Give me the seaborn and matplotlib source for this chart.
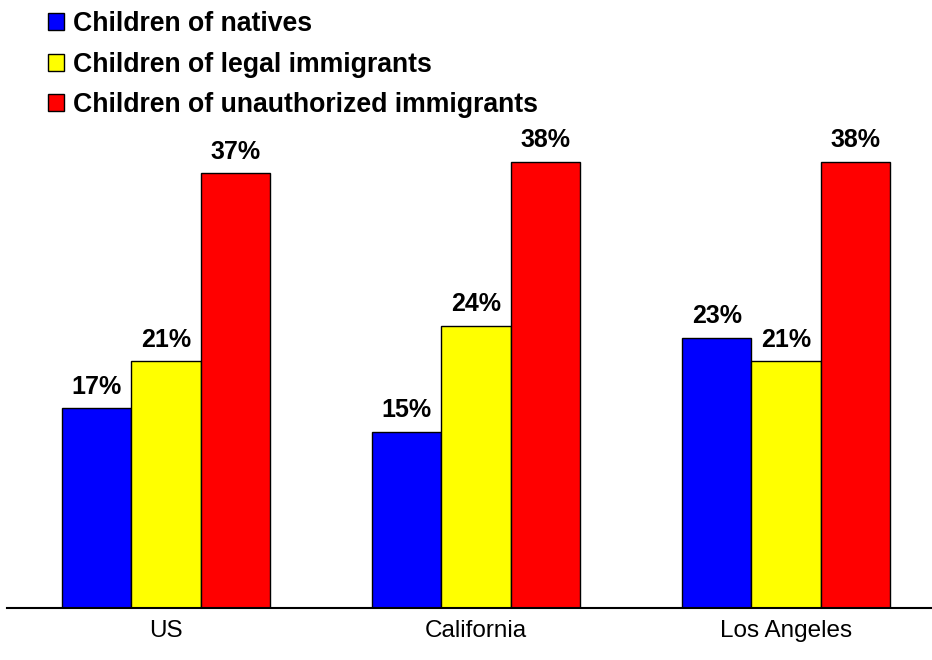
import matplotlib
matplotlib.use("Agg")
import matplotlib.pyplot as plt
import seaborn as sns
import pandas as pd

regions = ["US", "California", "Los Angeles"]
series_names = ["Children of natives", "Children of legal immigrants",
                "Children of unauthorized immigrants"]
natives = [17, 15, 23]
legal = [21, 24, 21]
unauthorized = [37, 38, 38]
colors = ["#0000FF", "#FFFF00", "#FF0000"]

rows = []
for name, vals in zip(series_names, [natives, legal, unauthorized]):
    for r, v in zip(regions, vals):
        rows.append({"region": r, "group": name, "value": v})
df = pd.DataFrame(rows)

sns.set_theme(style="white")
plt.rcParams['font.family'] = ['Liberation Sans', 'DejaVu Sans']
plt.rcParams['text.color'] = 'black'

fig = plt.figure(figsize=(9.32, 6.6), dpi=100)
W, H = 932, 660
ax = fig.add_axes([7 / W, (H - 608) / H, 925 / W, (608 - 100) / H])

sns.barplot(data=df, x="region", y="value", hue="group", order=regions,
            hue_order=series_names, palette=colors, width=0.67, gap=0,
            edgecolor="black", linewidth=1, saturation=1, ax=ax, legend=True)

for cont in ax.containers:
    ax.bar_label(cont, labels=[f"{int(v)}%" for v in cont.datavalues],
                 padding=7, fontsize=18, fontweight="bold", color="black")

ax.set_ylim(0, 508 / 11.75)
ax.set_xlim(-0.513, 2.471)
ax.set_xlabel("")
ax.set_ylabel("")
ax.set_yticks([])
ax.tick_params(axis="x", length=0, pad=8.5, labelsize=17.5, colors="black")
for s in ["top", "right", "left"]:
    ax.spines[s].set_visible(False)
ax.spines["bottom"].set_color("black")
ax.spines["bottom"].set_linewidth(1.5)

handles, labels = ax.get_legend_handles_labels()
ax.legend_.remove()
fig.legend(handles, labels, loc="upper left", bbox_to_anchor=(48 / W, 1 - 11 / H),
           frameon=False, prop={"weight": "bold", "size": 19.2},
           handlelength=0.6, handleheight=0.6, handletextpad=0.34,
           labelspacing=0.55, borderaxespad=0, borderpad=0,
           labelcolor="black")

fig.savefig("out.png", dpi=100)
